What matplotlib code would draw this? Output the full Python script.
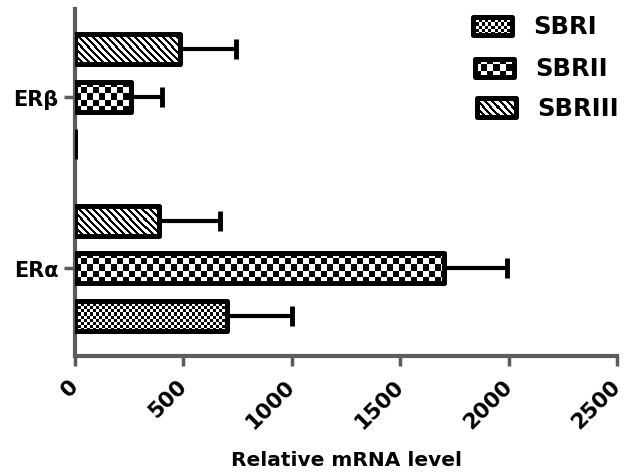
import numpy as np
import matplotlib
matplotlib.use("Agg")
import matplotlib.pyplot as plt
from matplotlib.patches import Rectangle

# ---- data ----
receptors = ["ERα", "ERβ"]
groups = ["SBRI", "SBRII", "SBRIII"]
mean_era = [700, 1703, 389]     # SBRI, SBRII, SBRIII
err_era = [301, 289, 281]
mean_erb = [2, 256, 482]
err_erb = [0, 146, 258]
x_ticks = [0, 500, 1000, 1500, 2000, 2500]

plt.rcParams['font.family'] = ['DejaVu Sans']

axis_grey = "#5c5c5c"

# fill style per group: (pattern, size in screen px)
fills = [("checker", 3), ("checker", 6), ("stripes", 7)]
offsets = [-0.275, 0.0, 0.275]
bar_h = 0.175

fig = plt.figure(figsize=(6.3, 4.77), dpi=100)
ax = fig.add_axes([0.119, 0.2516, 0.861, 0.7275])
ax.set_xlim(0, 2500)
ax.set_ylim(-0.51, 1.51)


def pattern_fill(patch, kind, size):
    # pattern image laid out in screen pixels, clipped to the patch
    bb = patch.get_window_extent()
    nx = int(np.ceil(bb.width)) + 2 * size
    ny = int(np.ceil(bb.height)) + 2 * size
    rows, cols = np.indices((ny, nx))
    if kind == "checker":
        board = ((rows // size + cols // size) % 2).astype(float)
    else:
        # "\" diagonal lines
        board = (((rows + cols) % size) >= 3).astype(float)
    inv = ax.transData.inverted()
    (x0, y0), (x1, y1) = inv.transform([(bb.x0, bb.y0), (bb.x0 + nx, bb.y0 + ny)])
    im = ax.imshow(board, cmap='gray', vmin=0, vmax=1, extent=(x0, x1, y0, y1),
                   origin='lower', interpolation='nearest', aspect='auto',
                   zorder=patch.get_zorder() - 0.5)
    im.set_clip_path(patch)


for i, g in enumerate(groups):
    vals = [mean_era[i], mean_erb[i]]
    errs = [err_era[i], err_erb[i]]
    ypos = np.arange(len(receptors)) + offsets[i]
    kind, size = fills[i]
    bars = ax.barh(ypos, vals, height=bar_h, color='none',
                   edgecolor='black', linewidth=3.6, zorder=3)
    for b in bars:
        b.set_joinstyle('round')
        pattern_fill(b, kind, size)
    ax.errorbar(vals, ypos, xerr=[np.zeros(len(errs)), errs], fmt='none',
                ecolor='black', elinewidth=3, capsize=7.2, capthick=3.5, zorder=2)

ax.set_xlim(0, 2500)
ax.set_ylim(-0.51, 1.51)

# ---- legend drawn by hand (patterned boxes) ----
leg_x = [0.733, 0.737, 0.741]
leg_y = [0.952, 0.831, 0.716]
for i, g in enumerate(groups):
    kind, size = fills[i]
    r = Rectangle((leg_x[i], leg_y[i] - 0.026), 0.072, 0.052, transform=ax.transAxes,
                  facecolor='none', edgecolor='black', linewidth=3.6,
                  joinstyle='round', zorder=5, clip_on=False)
    ax.add_patch(r)
    pattern_fill(r, kind, size)
    ax.text(leg_x[i] + 0.111, leg_y[i], g, transform=ax.transAxes, fontsize=17.5,
            fontweight='bold', va='center', ha='left')

# ---- axes styling ----
for side in ['top', 'right']:
    ax.spines[side].set_visible(False)
for side in ['left', 'bottom']:
    ax.spines[side].set_color(axis_grey)
    ax.spines[side].set_linewidth(3)

ax.set_xticks(x_ticks)
ax.set_xticklabels([str(t) for t in x_ticks], rotation=45, ha='right', va='center',
                   rotation_mode='anchor', fontsize=15.5, fontweight='bold')
ax.set_yticks(np.arange(len(receptors)))
ax.set_yticklabels(receptors, fontsize=15, fontweight='bold')
ax.tick_params(axis='x', length=7, width=2.5, color=axis_grey, pad=12)
ax.tick_params(axis='y', length=8, width=2.5, color=axis_grey, pad=4)

ax.set_xlabel("Relative mRNA level", fontsize=14.5, fontweight='bold')
ax.xaxis.set_label_coords(0.5, -0.272)

fig.savefig("out.png", dpi=100)
